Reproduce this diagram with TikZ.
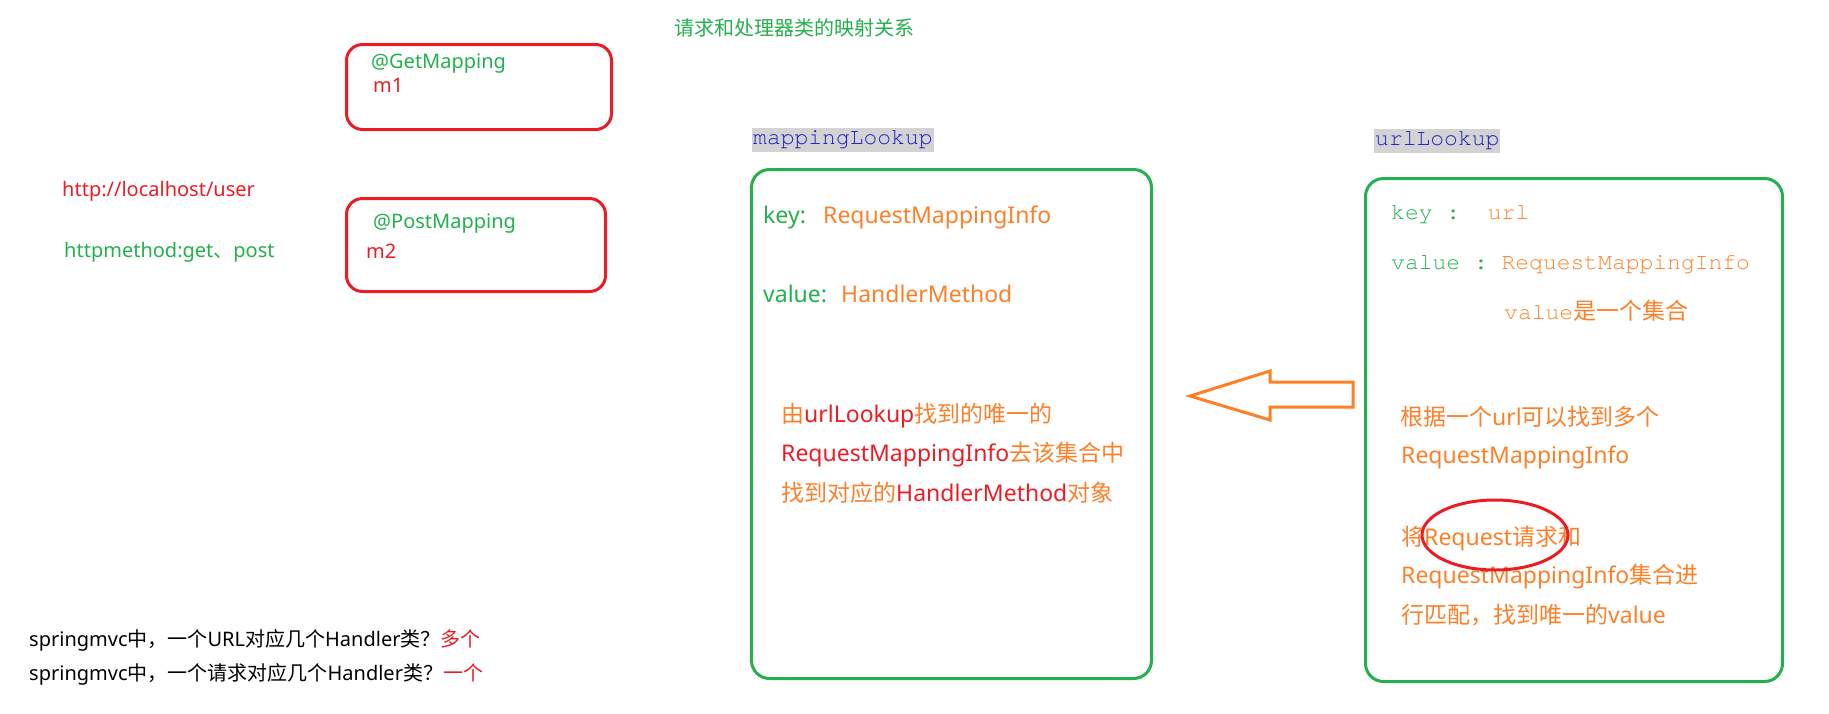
\documentclass[tikz,border=0pt]{standalone}
\usepackage{fontspec}
\setmainfont{Noto Sans}
\setmonofont{TeX Gyre Cursor}
\newfontfamily\cjk{Noto Sans CJK SC}
\newcommand{\zh}[1]{{\cjk #1}}
\usetikzlibrary{shapes.geometric}
\definecolor{pgreen}{RGB}{34,177,76}
\definecolor{pred}{RGB}{237,28,36}
\definecolor{porange}{RGB}{255,127,39}
\definecolor{pblue}{RGB}{30,30,200}
\definecolor{pgray}{RGB}{211,211,211}
\begin{document}
\begin{tikzpicture}[x=1pt,y=-1pt,
  txt/.style={inner sep=0pt, anchor=base west},
  s20/.style={font=\fontsize{20}{24}\selectfont},
  s23/.style={font=\fontsize{23}{28}\selectfont},
  m23/.style={font=\ttfamily\fontsize{23}{28}\selectfont},
  redbox/.style={draw=pred, line width=3pt, rounded corners=16pt, anchor=north west, inner sep=0pt},
  greenbox/.style={draw=pgreen, line width=3pt, rounded corners=18pt, anchor=north west, inner sep=0pt},
  tag/.style={fill=pgray, text=pblue, m23, inner xsep=1pt, inner ysep=0pt, text height=17pt, text depth=7pt, anchor=west},
]
\path[use as bounding box] (0,0) rectangle (1829,713);

% title
\node[txt,s20,text=pgreen] (title) at (674,35) {\zh{请求和处理器类的映射关系}};

% left red boxes
\node[redbox, minimum width=265pt, minimum height=85pt] (getbox) at (345,43) {};
\node[txt,s20,text=pgreen] (getm) at (371,68) {@GetMapping};
\node[txt,s20,text=pred] (m1) at (373,92) {m1};
\node[redbox, minimum width=259pt, minimum height=93pt] (postbox) at (345,197) {};
\node[txt,s20,text=pgreen] (postm) at (373,228) {@PostMapping};
\node[txt,s20,text=pred] (m2) at (366,258) {m2};

\node[txt,s20,text=pred] (url) at (62,196) {http://localhost/user};
\node[txt,s20,text=pgreen] (meth) at (64,257) {httpmethod:get\zh{、}post};

% mappingLookup
\node[tag] (mltag) at (752,139.5) {mappingLookup};
\node[greenbox, minimum width=400pt, minimum height=509pt] (mapbox) at (750,168) {};
\node[txt,s23,text=pgreen] (k1) at (763,223) {key:};
\node[txt,s23,text=porange] (k1v) at (823,223) {RequestMappingInfo};
\node[txt,s23,text=pgreen] (v1) at (763,302) {value:};
\node[txt,s23,text=porange] (v1v) at (841,302) {HandlerMethod};
\node[txt,s23,text=porange] (d1) at (781,422) {\zh{由}\textcolor{pred}{urlLookup}\zh{找到的唯一的}};
\node[txt,s23,text=porange] (d2) at (781,461) {\textcolor{pred}{RequestMappingInfo}\zh{去该集合中}};
\node[txt,s23,text=porange] (d3) at (781,501) {\zh{找到对应的}\textcolor{pred}{HandlerMethod}\zh{对象}};

% urlLookup
\node[tag] (ultag) at (1374,140.5) {urlLookup};
\node[greenbox, minimum width=417pt, minimum height=503pt] (urlbox) at (1364,177) {};
\node[txt,m23,text=pgreen] (k2) at (1391,219) {key :~~\textcolor{porange}{url}};
\node[txt,m23,text=pgreen] (v2) at (1391,269) {value : \textcolor{porange}{RequestMappingInfo}};
\node[txt,text=porange] (set) at (1504,319) {{\ttfamily\fontsize{23}{28}\selectfont value}{\fontsize{23}{28}\selectfont\cjk 是一个集合}};
\node[txt,s23,text=porange] (e1) at (1400,425) {\zh{根据一个}url\zh{可以找到多个}};
\node[txt,s23,text=porange] (e2) at (1401,463) {RequestMappingInfo};
\node[txt,s23,text=porange] (e3) at (1401,545) {\zh{将}Request\zh{请求和}};
\node[txt,s23,text=porange] (e4) at (1401,583) {RequestMappingInfo\zh{集合进}};
\node[txt,s23,text=porange] (e5) at (1401,623) {\zh{行匹配，找到唯一的}value};
\node[draw=pred, line width=3pt, ellipse, minimum width=146pt, minimum height=70pt, inner sep=0pt] (circ) at (1495,535) {};

% hollow arrow from urlLookup box to mappingLookup box
\draw[porange, line width=3pt, line join=miter]
  (1190,396) -- (1270,371) -- (1270,382) -- (1353,382) -- (1353,407)
  -- (1270,407) -- (1270,420) -- cycle;

% bottom questions
\node[txt,s20] (q1) at (29,646) {springmvc\zh{中，一个}URL\zh{对应几个}Handler\zh{类？}\textcolor{pred}{\zh{多个}}};
\node[txt,s20] (q2) at (29,680) {springmvc\zh{中，一个请求对应几个}Handler\zh{类？}\textcolor{pred}{\zh{一个}}};
\end{tikzpicture}
\end{document}
